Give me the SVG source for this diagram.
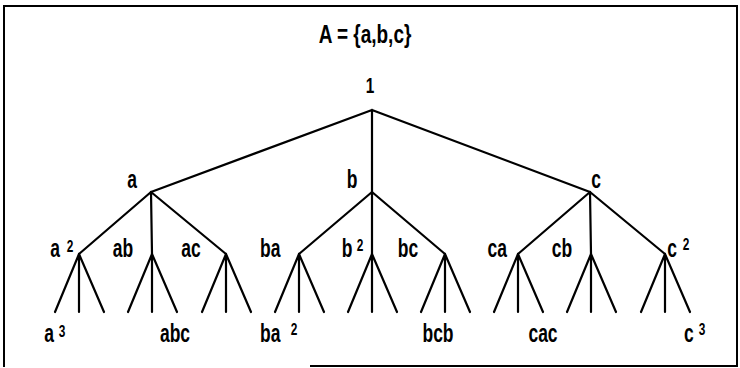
<svg xmlns="http://www.w3.org/2000/svg" width="740" height="368" viewBox="0 0 740 368">
<style>
text{font-family:"Liberation Sans",Arial,sans-serif;font-size:25px;font-weight:bold;fill:#000;text-anchor:middle;transform-box:fill-box;transform-origin:center;transform:scaleX(0.7);}
.t{font-size:26px;transform:scaleX(0.73);}
.o{font-size:22px;}
.s{font-size:17px;}
.e{stroke:#000;stroke-width:2.2;fill:none;stroke-linecap:round;stroke-linejoin:round;}
.f{stroke:#000;stroke-width:2;fill:none;}
</style>
<rect width="740" height="368" fill="#fff"/>
<path class="f" d="M4,367 V6 H737 V366 H310"/>
<text class="t" x="365" y="43">A = {a,b,c}</text>
<g id="connectors">
<path class="e" d="M372,110 L151,192 M372,110 L372,192 M372,110 L590,192"/>
<path class="e" d="M151,192 L79,254 M151,192 L152,254 M151,192 L226,254"/>
<path class="e" d="M372,192 L299,254 M372,192 L372,254 M372,192 L445,254"/>
<path class="e" d="M590,192 L518,254 M590,192 L591,254 M590,192 L665,254"/>
<path class="e" d="M79,254 L55,312 M79,254 L79,312 M79,254 L104,312"/>
<path class="e" d="M152,254 L128,312 M152,254 L152,312 M152,254 L177,312"/>
<path class="e" d="M226,254 L202,312 M226,254 L226,312 M226,254 L251,312"/>
<path class="e" d="M299,254 L275,312 M299,254 L299,312 M299,254 L324,312"/>
<path class="e" d="M372,254 L348,312 M372,254 L372,312 M372,254 L397,312"/>
<path class="e" d="M445,254 L421,312 M445,254 L445,312 M445,254 L470,312"/>
<path class="e" d="M518,254 L494,312 M518,254 L518,312 M518,254 L543,312"/>
<path class="e" d="M591,254 L567,312 M591,254 L591,312 M591,254 L616,312"/>
<path class="e" d="M665,254 L641,312 M665,254 L665,312 M665,254 L690,312"/>
</g>
<g id="n1"><text class="o" x="370" y="93">1</text></g>
<g id="na"><text x="132" y="188">a</text></g>
<g id="nb"><text x="352" y="188">b</text></g>
<g id="nc"><text x="596" y="188">c</text></g>
<g id="na2"><text x="55" y="257">a</text><text class="s" x="70" y="252">2</text></g>
<g id="nab"><text x="123" y="257">ab</text></g>
<g id="nac"><text x="191" y="257">ac</text></g>
<g id="nba"><text x="270" y="257">ba</text></g>
<g id="nb2"><text x="347" y="257">b</text><text class="s" x="360" y="251">2</text></g>
<g id="nbc"><text x="408" y="257">bc</text></g>
<g id="nca"><text x="497" y="257">ca</text></g>
<g id="ncb"><text x="562" y="257">cb</text></g>
<g id="nc2"><text x="672" y="257">c</text><text class="s" x="686" y="250">2</text></g>
<g id="na3"><text x="49" y="342">a</text><text class="s" x="62" y="337">3</text></g>
<g id="nabc"><text x="175" y="342">abc</text></g>
<g id="nba2"><text x="270" y="342">ba</text><text class="s" x="294" y="335">2</text></g>
<g id="nbcb"><text x="438" y="342">bcb</text></g>
<g id="ncac"><text x="543" y="342">cac</text></g>
<g id="nc3"><text x="689" y="342">c</text><text class="s" x="702" y="335">3</text></g>
</svg>
